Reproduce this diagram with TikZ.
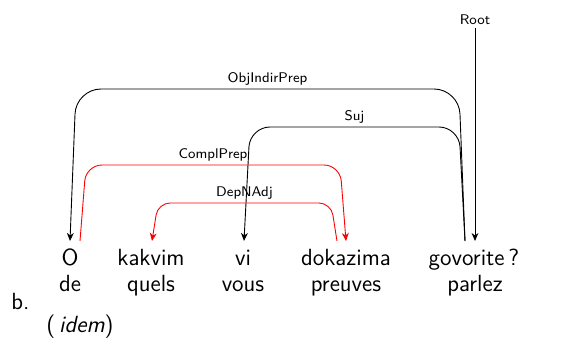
\documentclass[tikz,border=0pt]{standalone}
\usepackage{tikz}
\usetikzlibrary{arrows.meta, positioning}

\begin{document}
\begin{tikzpicture}[x=0.5pt,y=0.5pt,>={Stealth[length=4pt,width=3.4pt,inset=1.2pt]},
    word/.style={anchor=base,inner sep=0pt,outer xsep=0pt,outer ysep=4pt,text height=8.5pt,text depth=0pt,font=\fontsize{11.7}{14}\selectfont\sffamily},
    gloss/.style={anchor=base,inner sep=0pt,font=\fontsize{11.7}{14}\selectfont\sffamily},
    rel/.style={font=\fontsize{7}{8}\selectfont\sffamily,inner sep=1.5pt,above,text=black},
    dep/.style={->,line width=0.45pt},
    reddep/.style={dep,red}]
    \useasboundingbox (0,0) rectangle (580,338);

    \node[word] (o) at (70,72) {O};
    \node[word] (kakvim) at (151,72) {kakvim};
    \node[word] (vi) at (243,72) {vi};
    \node[word] (dokazima) at (346,72) {dokazima};
    \node[word] (govorite) at (474,72) {govorite\,?};

    \node[gloss] (de) at ([yshift=-13pt]o.base) {de};
    \node[gloss] (quels) at ([yshift=-13pt]kakvim.base) {quels};
    \node[gloss] (vous) at ([yshift=-13pt]vi.base) {vous};
    \node[gloss] (preuves) at ([yshift=-13pt]dokazima.base) {preuves};
    \node[gloss] (parlez) at ([yshift=-13pt,xshift=0.5pt]govorite.base) {parlez};

    \node[gloss,anchor=base west] (ex) at (11,28) {b.};
    \node[gloss,anchor=base west] (src) at (46,5) {(\,\textit{idem})};

    \node[rel,anchor=center] (root) at (475,318) {Root};
    \draw[dep] (root.south) -- ([xshift=0.5pt]govorite.north);

    \draw[dep,rounded corners=12.5pt] ([xshift=-4.5pt]govorite.north) -- ++(-3pt,76pt) coordinate (t1)
        -- node[rel] {ObjIndirPrep} ([xshift=3pt]o.north |- t1) -- (o.north);
    \draw[dep,rounded corners=10pt] ([xshift=-4.5pt]govorite.north) -- ++(-3pt,57pt) coordinate (t2)
        -- node[rel] {Suj} ([xshift=3.5pt]vi.north |- t2) -- ([xshift=0.5pt]vi.north);
    \draw[reddep,rounded corners=8pt] ([xshift=5pt]o.north) -- ++(3pt,38pt) coordinate (t3)
        -- node[rel] {ComplPrep} ([xshift=-3pt]dokazima.north |- t3) -- (dokazima.north);
    \draw[reddep,rounded corners=6pt] ([xshift=-4.5pt]dokazima.north) -- ++(-3pt,19pt) coordinate (t4)
        -- node[rel] {DepNAdj} ([xshift=3.5pt]kakvim.north |- t4) -- ([xshift=0.5pt]kakvim.north);
\end{tikzpicture}
\end{document}
